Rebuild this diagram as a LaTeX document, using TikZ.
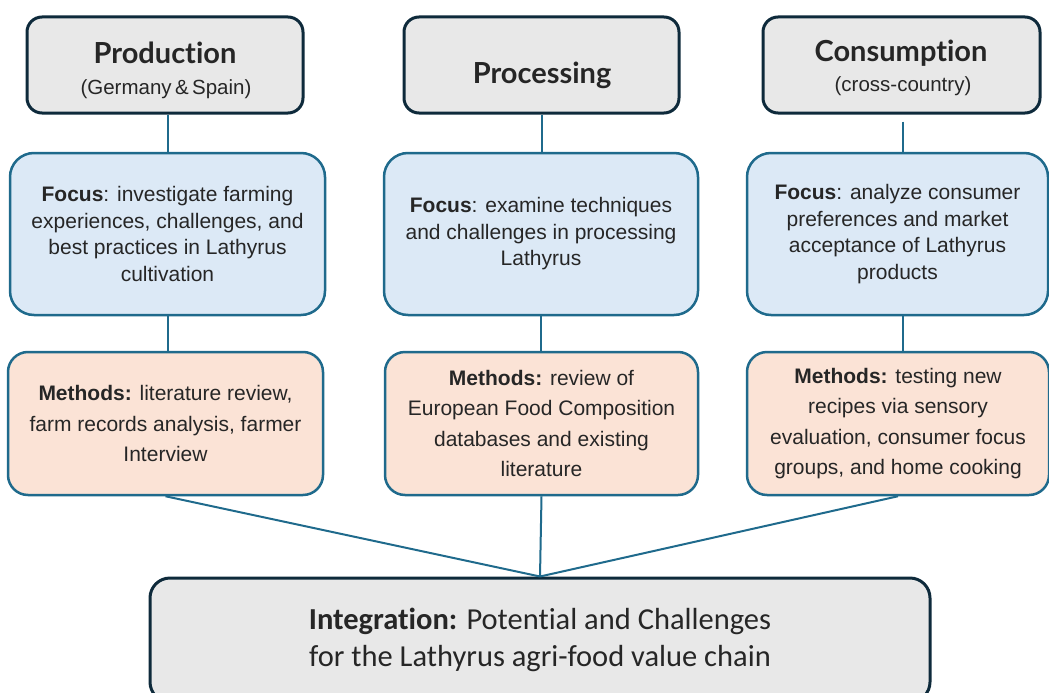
\documentclass[tikz,border=0pt]{standalone}
\usepackage{fontspec}
\setmainfont{Liberation Sans}
\newfontfamily\headfont[Ligatures=NoCommon]{Lato}
\newfontfamily\narrowfont[Ligatures=NoCommon]{Carlito}

\definecolor{headfill}{HTML}{E8E8E8}
\definecolor{headline}{HTML}{0E2A3B}
\definecolor{focusfill}{HTML}{DCE9F6}
\definecolor{methfill}{HTML}{FBE3D6}
\definecolor{boxline}{HTML}{1F6A8C}
\definecolor{txt}{HTML}{262626}

\tikzset{
  headbox/.style={draw=headline, line width=3pt, fill=headfill, rounded corners=15pt,
    minimum height=96pt, inner sep=0pt},
  focusbox/.style={draw=boxline, line width=2.5pt, fill=focusfill, rounded corners=24pt,
    minimum height=162pt, inner sep=0pt, align=center, text=txt,
    font=\fontsize{21}{26.5}\selectfont},
  methbox/.style={draw=boxline, line width=2.5pt, fill=methfill, rounded corners=20pt,
    minimum height=143pt, inner sep=0pt, align=center, text=txt,
    font=\fontsize{21}{30.5}\selectfont},
  intbox/.style={draw=headline, line width=3pt, fill=headfill, rounded corners=20pt,
    minimum height=124pt, inner sep=0pt, align=center, text=txt,
    font=\narrowfont\fontsize{30.5}{37.5}\selectfont},
  link/.style={draw=boxline, line width=2pt},
  title/.style={anchor=base, inner sep=0pt, text=txt,
    font=\headfont\bfseries\fontsize{29}{32}\selectfont},
  subtitle/.style={anchor=base, inner sep=0pt, text=txt,
    font=\fontsize{20.5}{24}\selectfont}
}

\begin{document}
\begin{tikzpicture}[x=1pt,y=-1pt]
\useasboundingbox (0,0) rectangle (1049,693);

% stage headers
\node[headbox, minimum width=276pt] (prod) at (165,65) {};
\node[headbox, minimum width=275pt] (proc) at (541.5,65) {};
\node[headbox, minimum width=277pt] (cons) at (901.5,65) {};
\node[title] (prodT) at (165,63.5) {Production};
\node[subtitle] (prodS) at (166,94) {(Germany\,\&\,Spain)};
\node[title] (procT) at (542,83) {Processing};
\node[title] (consT) at (901,62) {Consumption};
\node[subtitle] (consS) at (903,92) {(cross-country)};

% focus boxes
\node[focusbox, minimum width=315pt] (fprod) at (167.5,234)
  {\textbf{Focus}: investigate farming\\experiences, challenges, and\\best practices in Lathyrus\\cultivation};
\node[focusbox, minimum width=314pt] (fproc) at (541,234)
  {\textbf{Focus}: examine techniques\\and challenges in processing\\Lathyrus};
\node[focusbox, minimum width=301pt] (fcons) at (897.5,234)
  {\textbf{Focus}: analyze consumer\\preferences and market\\acceptance of Lathyrus\\products};

% methods boxes
\node[methbox, minimum width=315pt] (mprod) at (165.5,423.5)
  {\textbf{Methods:} literature review,\\farm records analysis, farmer\\Interview};
\node[methbox, minimum width=313pt] (mproc) at (541.5,423.5)
  {\textbf{Methods:} review of\\European Food Composition\\databases and existing\\literature};
\node[methbox, minimum width=302pt] (mcons) at (898,423.5)
  {\textbf{Methods:} testing new\\recipes via sensory\\evaluation, consumer focus\\groups, and home cooking};

% integration box
\node[intbox, minimum width=780pt] (integ) at (540,640)
  {\textbf{Integration:} Potential and Challenges\\for the Lathyrus agri-food value chain};

% vertical connectors
\draw[link] (prod.south -| fprod.north) -- (fprod.north);
\draw[link] (proc.south) -- (fproc.north -| proc.south);
\draw[link] ([yshift=-7pt]cons.south -| 903,0) -- (fcons.north -| 903,0);
\draw[link] (fprod.south) -- (mprod.north -| fprod.south);
\draw[link] (fproc.south) -- (mproc.north -| fproc.south);
\draw[link] (fcons.south -| 903,0) -- (mcons.north -| 903,0);

% converging connectors
\coordinate (join) at (integ.north);
\draw[link] (mprod.south) -- (join);
\draw[link] (mproc.south) -- (join);
\draw[link] (mcons.south) -- (join);
\end{tikzpicture}
\end{document}
